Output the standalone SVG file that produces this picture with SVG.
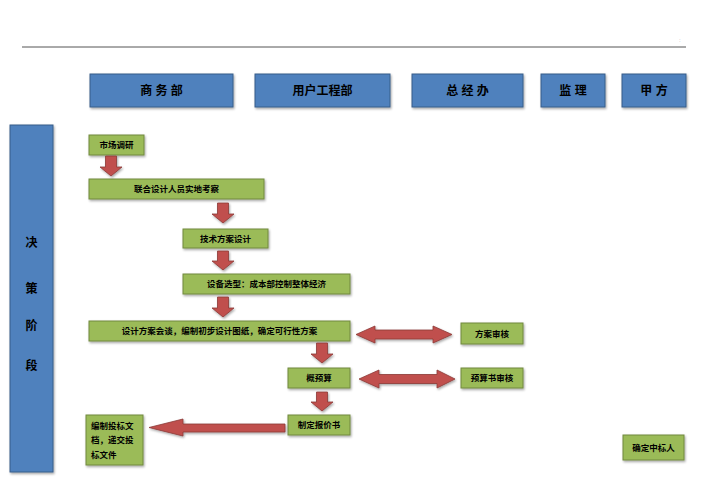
<svg xmlns="http://www.w3.org/2000/svg" width="707" height="500" viewBox="0 0 707 500">
<defs>
<filter id="sh" x="-10%" y="-10%" width="130%" height="140%">
<feDropShadow dx="1" dy="1.5" stdDeviation="0.8" flood-color="#000" flood-opacity="0.35"/>
</filter>
</defs>
<style>
.hd{fill:#4F81BD;stroke:#385D8A;stroke-width:1;filter:url(#sh)}
.gb{fill:#9BBB59;stroke:#71893F;stroke-width:1;filter:url(#sh)}
.ar{fill:#C0504D;stroke:#8C3836;stroke-width:0.8;filter:url(#sh)}
.ht{font-family:"Liberation Sans","Noto Sans CJK SC",sans-serif;font-size:12px;font-weight:bold;fill:#000;text-anchor:middle;dominant-baseline:central}
.gt{font-family:"Liberation Sans","Noto Sans CJK SC",sans-serif;font-size:8.5px;font-weight:bold;fill:#000;text-anchor:middle;dominant-baseline:central}
.lt{font-family:"Liberation Sans","Noto Sans CJK SC",sans-serif;font-size:8.5px;font-weight:bold;fill:#000}
</style>
<rect width="707" height="500" fill="#fff"/>
<line x1="22" y1="47" x2="686" y2="47" stroke="#555" stroke-width="1"/>
<text x="679" y="42" font-family="Liberation Sans,sans-serif" font-size="6" fill="#aaa">:</text>

<g id="hdr-shangwu"><rect class="hd" x="90" y="74" width="143" height="33"/><text class="ht" x="161.5" y="90.5">商 务 部</text></g>
<g id="hdr-yonghu"><rect class="hd" x="255" y="74" width="135" height="33"/><text class="ht" x="322.5" y="90.5">用户工程部</text></g>
<g id="hdr-zongjing"><rect class="hd" x="412" y="74" width="111" height="33"/><text class="ht" x="467.5" y="90.5">总 经 办</text></g>
<g id="hdr-jianli"><rect class="hd" x="541" y="74" width="64" height="33"/><text class="ht" x="573" y="90.5">监  理</text></g>
<g id="hdr-jiafang"><rect class="hd" x="622" y="74" width="64" height="33"/><text class="ht" x="654" y="90.5">甲  方</text></g>

<g id="stage"><rect class="hd" x="10" y="125" width="43" height="347"/>
<text class="ht" x="31.5" y="243">决</text><text class="ht" x="31.5" y="289">策</text><text class="ht" x="31.5" y="326">阶</text><text class="ht" x="31.5" y="366">段</text></g>

<g id="n1"><rect class="gb" x="89" y="135" width="55" height="20"/><text class="gt" x="116.5" y="145">市场调研</text></g>
<g id="n2"><rect class="gb" x="89" y="179" width="175" height="20"/><text class="gt" x="176.5" y="189">联合设计人员实地考察</text></g>
<g id="n3"><rect class="gb" x="183" y="229" width="85" height="19"/><text class="gt" x="225.5" y="238.5">技术方案设计</text></g>
<g id="n4"><rect class="gb" x="183" y="274" width="167" height="20"/><text class="gt" x="266.5" y="284">设备选型：成本部控制整体经济</text></g>
<g id="n5"><rect class="gb" x="89" y="321" width="261" height="20"/><text class="gt" x="219.5" y="331">设计方案会谈，编制初步设计图纸，确定可行性方案</text></g>
<g id="n6"><rect class="gb" x="288" y="368" width="62" height="20"/><text class="gt" x="319" y="378">概预算</text></g>
<g id="n7"><rect class="gb" x="288" y="415" width="62" height="20"/><text class="gt" x="319" y="425">制定报价书</text></g>
<g id="n8"><rect class="gb" x="86" y="415" width="57" height="50"/>
<text class="lt" x="91" y="429">编制投标文</text><text class="lt" x="91" y="443">档，递交投</text><text class="lt" x="91" y="458">标文件</text></g>
<g id="n9"><rect class="gb" x="461" y="323" width="62" height="21"/><text class="gt" x="492" y="333.5">方案审核</text></g>
<g id="n10"><rect class="gb" x="461" y="368" width="62" height="20"/><text class="gt" x="492" y="378">预算书审核</text></g>
<g id="n11"><rect class="gb" x="623" y="435" width="61" height="25"/><text class="gt" x="653.5" y="447.5">确定中标人</text></g>

<g id="connectors">
<polygon class="ar" points="105.5,156 116.5,156 116.5,167 122,167 111,176 100,167 105.5,167"/>
<polygon class="ar" points="217.5,203 228.5,203 228.5,214 234,214 223,223 212,214 217.5,214"/>
<polygon class="ar" points="217.5,251 228.5,251 228.5,261 234,261 223,270 212,261 217.5,261"/>
<polygon class="ar" points="217.5,297 228.5,297 228.5,308 234,308 223,317 212,308 217.5,308"/>
<polygon class="ar" points="316.5,343 327.5,343 327.5,354 333,354 322,363 311,354 316.5,354"/>
<polygon class="ar" points="316.5,392 327.5,392 327.5,402 333,402 322,411 311,402 316.5,402"/>
<polygon class="ar" points="285,424 183,424 183,419 149,427.5 183,436 183,432 285,432"/>
<polygon class="ar" points="356,334.5 375,326 375,330 433,330 433,326 452,334.5 433,343 433,339 375,339 375,343"/>
<polygon class="ar" points="359,379 379,370 379,374.5 437,374.5 437,370 455,379 437,388 437,383.5 379,383.5 379,388"/>
</g>
</svg>
